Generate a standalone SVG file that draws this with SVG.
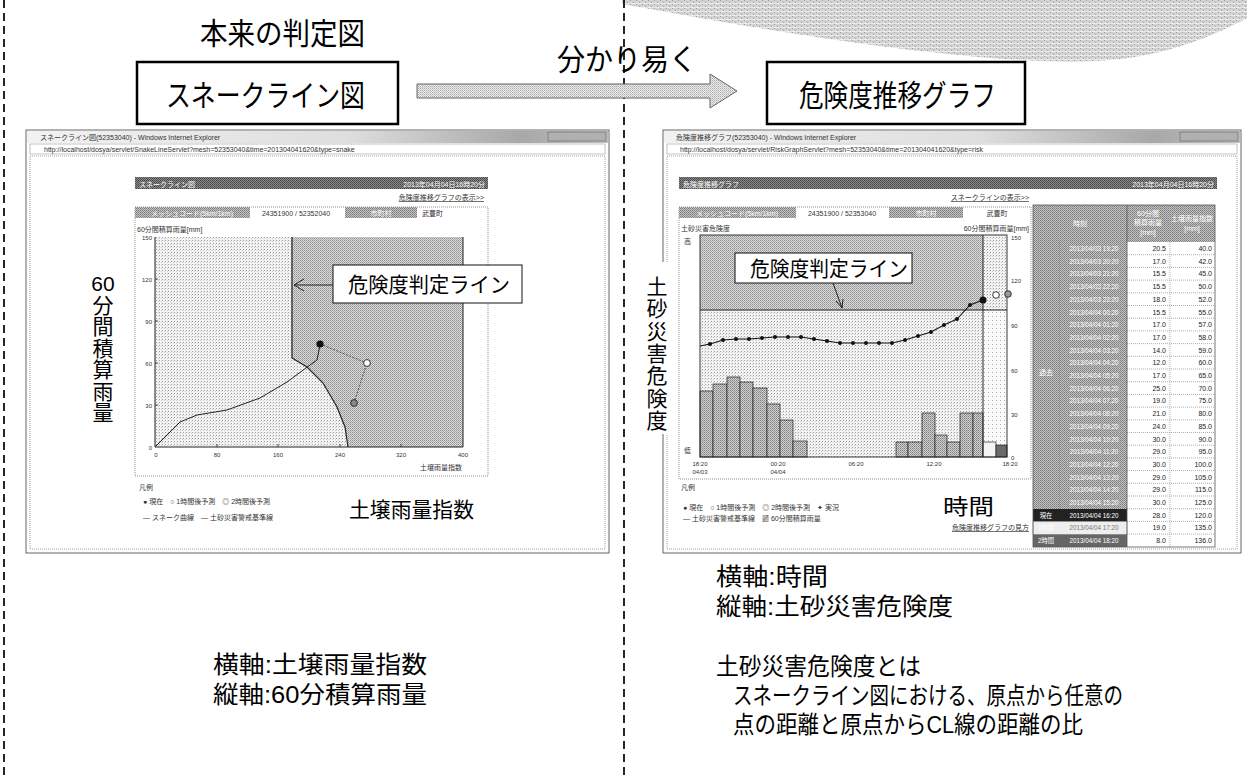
<svg xmlns="http://www.w3.org/2000/svg" width="1247" height="778" viewBox="0 0 1247 778">
<style>
text{font-family:"Liberation Sans","Noto Sans CJK JP",sans-serif;}
.big{font-size:30px;fill:#000;}
.lab{font-size:21px;fill:#000;}
.bt{font-size:24px;fill:#000;}
.sm{font-size:7px;fill:#333;}
.smw{font-size:7px;fill:#fff;}
.tk{font-size:6px;fill:#333;}
.vl{font-size:7px;fill:#222;text-anchor:end;}
.dt{font-size:6.3px;fill:#fff;text-anchor:middle;}
.dash{stroke:#000;stroke-width:1.7;stroke-dasharray:8 5;fill:none;}
.sep{stroke:#777;stroke-width:0.6;stroke-dasharray:1 1;}
.cell{fill:url(#pCell);}
</style>
<defs>
<pattern id="pWave" width="6" height="4" patternUnits="userSpaceOnUse"><rect width="6" height="4" fill="#d6d6d6"/><rect width="1" height="1" fill="#999"/><rect x="3" y="2" width="1" height="1" fill="#a6a6a6"/><rect x="0" y="3" width="5" height="1" fill="#ededed"/><rect x="2" y="1" width="3" height="1" fill="#c6c6c6"/></pattern>
<pattern id="pArrow" width="2" height="2" patternUnits="userSpaceOnUse"><rect width="2" height="2" fill="#ececec"/><rect width="1" height="1" fill="#a8a8a8"/><rect x="1" y="1" width="1" height="1" fill="#c8c8c8"/></pattern>
<pattern id="pLight" width="3" height="3" patternUnits="userSpaceOnUse"><rect width="3" height="3" fill="#f3f3f3"/><rect width="1" height="1" fill="#9c9c9c"/><rect x="2" y="1" width="1" height="1" fill="#cfcfcf"/></pattern>
<pattern id="pVLight" width="4" height="4" patternUnits="userSpaceOnUse"><rect width="4" height="4" fill="#fafafa"/><rect width="1" height="1" fill="#b0b0b0"/></pattern>
<pattern id="pMid" width="2" height="2" patternUnits="userSpaceOnUse"><rect width="2" height="2" fill="#dcdcdc"/><rect width="1" height="1" fill="#8e8e8e"/><rect x="1" y="1" width="1" height="1" fill="#a8a8a8"/></pattern>
<pattern id="pHdr" width="2" height="2" patternUnits="userSpaceOnUse"><rect width="2" height="2" fill="#8a8a8a"/><rect width="1" height="1" fill="#444"/><rect x="1" y="1" width="1" height="1" fill="#555"/></pattern>
<pattern id="pCell" width="2" height="2" patternUnits="userSpaceOnUse"><rect width="2" height="2" fill="#c4c4c4"/><rect width="1" height="1" fill="#7a7a7a"/><rect x="1" y="1" width="1" height="1" fill="#8c8c8c"/></pattern>
<pattern id="pBar" width="2" height="2" patternUnits="userSpaceOnUse"><rect width="2" height="2" fill="#d2d2d2"/><rect width="1" height="1" fill="#7c7c7c"/><rect x="1" y="1" width="1" height="1" fill="#9a9a9a"/></pattern>
<linearGradient id="gTitle" x1="0" y1="0" x2="1" y2="0"><stop offset="0" stop-color="#f2f2f2"/><stop offset="0.55" stop-color="#dedede"/><stop offset="0.85" stop-color="#a8a8a8"/><stop offset="1" stop-color="#bdbdbd"/></linearGradient>
</defs>
<rect width="1247" height="778" fill="#fff"/>

<g id="wave"><path d="M622 0 V4 C700 18 820 40 930 52 C1000 60 1060 64 1110 60 C1170 55 1215 35 1247 18 V0 Z" fill="url(#pWave)"/></g>

<g id="dividers">
<line x1="4" y1="0" x2="4" y2="778" class="dash"/>
<line x1="624" y1="0" x2="624" y2="778" class="dash"/>
</g>

<g id="title-left">
<text x="200" y="44" class="big" textLength="165" lengthAdjust="spacingAndGlyphs">本来の判定図</text>
</g>
<g id="node-snake">
<rect x="137" y="62" width="261" height="62" fill="#fff" stroke="#000" stroke-width="2.5"/>
<text x="166" y="106" class="big" font-size="32" textLength="199" lengthAdjust="spacingAndGlyphs">スネークライン図</text>
</g>
<g id="node-risk">
<rect x="767" y="62" width="258" height="62" fill="#fff" stroke="#000" stroke-width="2.5"/>
<text x="799" y="106" class="big" font-size="32" textLength="197" lengthAdjust="spacingAndGlyphs">危険度推移グラフ</text>
</g>
<g id="label-easy">
<text x="557" y="70" class="big" textLength="140" lengthAdjust="spacingAndGlyphs">分かり易く</text>
</g>

<!-- left window -->
<g id="window-snake">
<rect x="26" y="130" width="583" height="423" fill="#fff" stroke="#666" stroke-width="1"/>
<rect x="27" y="131" width="581" height="12" fill="url(#gTitle)"/>
<text x="40" y="140" class="sm">スネークライン図(52353040) - Windows Internet Explorer</text>
<rect x="548" y="132" width="58" height="9" fill="#b0b0b0" stroke="#555" stroke-width="0.5"/>
<rect x="30" y="144" width="575" height="10" fill="#fff" stroke="#999" stroke-width="0.6"/>
<text x="44" y="152" class="sm" font-size="6">http://localhost/dosya/servlet/SnakeLineServlet?mesh=52353040&amp;time=201304041620&amp;type=snake</text>
<rect x="30" y="156" width="575" height="393" fill="#fff" stroke="#888" stroke-width="0.8" stroke-dasharray="1 1"/>
<rect x="135" y="177" width="353" height="12" fill="url(#pHdr)"/>
<text x="139" y="186.5" class="smw" font-size="8">スネークライン図</text>
<text x="485" y="187" class="smw" font-size="9.5" text-anchor="end">2013年04月04日16時20分</text>
<text x="484" y="200" class="sm" font-size="6.5" text-anchor="end" text-decoration="underline">危険度推移グラフの表示&gt;&gt;</text>
<rect x="135" y="207" width="353" height="269" fill="none" stroke="#666" stroke-width="0.7" stroke-dasharray="1 1"/>
<rect x="135" y="207" width="115" height="11" class="cell"/>
<text x="192" y="215.5" class="smw" font-size="6.5" text-anchor="middle">メッシュコード(5km/1km)</text>
<text x="296" y="215.5" class="sm" font-size="6.5" text-anchor="middle">24351900 / 52352040</text>
<rect x="345" y="207" width="72" height="11" class="cell"/>
<text x="381" y="215.5" class="smw" font-size="6.5" text-anchor="middle">市町村</text>
<text x="422" y="215.5" class="sm" font-size="6.5">武豊町</text>
<text x="137" y="232" class="sm" font-size="7">60分間積算雨量[mm]</text>
<polygon points="155,237 292,237 292,358 307,367 323,383 337,407 345,427 348,447 155,447" fill="url(#pLight)"/>
<polygon points="292,237 463,237 463,447 348,447 345,427 337,407 323,383 307,367 292,358" fill="url(#pMid)"/>
<polyline points="155,237 155,447 463,447 463,237" fill="none" stroke="#222" stroke-width="1"/>
<polyline points="292,237 292,358 307,367 323,383 337,407 345,427 348,447" fill="none" stroke="#222" stroke-width="1.2"/>
<polyline points="155,447 170,432 180,422 197,415 227,410 260,398 287,382 310,365 317,360 320,345" fill="none" stroke="#222" stroke-width="1"/>
<polyline points="320,344 367,363 354,403" fill="none" stroke="#333" stroke-width="0.8" stroke-dasharray="2 1.5"/>
<circle cx="320" cy="344" r="3.6" fill="#111"/>
<circle cx="367" cy="363" r="3.4" fill="#fff" stroke="#222" stroke-width="0.9"/>
<circle cx="354" cy="403" r="3.4" fill="#888" stroke="#222" stroke-width="0.9"/>
<g class="tk" text-anchor="end">
<text x="152" y="240">150</text><text x="152" y="282">120</text><text x="152" y="324">90</text><text x="152" y="366">60</text><text x="152" y="408">30</text><text x="152" y="450">0</text>
</g>
<g class="tk" text-anchor="middle">
<text x="156" y="457">0</text><text x="217" y="457">80</text><text x="278" y="457">160</text><text x="340" y="457">240</text><text x="401" y="457">320</text><text x="463" y="457">400</text>
</g>
<path d="M217 447 v-3 M278 447 v-3 M340 447 v-3 M401 447 v-3 M155 405 h3 M155 363 h3 M155 321 h3 M155 279 h3" stroke="#222" stroke-width="0.8"/>
<text x="462" y="470" class="sm" font-size="7.5" text-anchor="end">土壌雨量指数</text>
<text x="139" y="490" class="sm" font-size="7.5">凡例</text>
<text x="143" y="504" class="sm" font-size="7.5">● 現在　○ 1時間後予測　◎ 2時間後予測</text>
<text x="143" y="520" class="sm" font-size="7.5">— スネーク曲線　— 土砂災害警戒基準線</text>
</g>

<g id="label-snake-y">
<text x="103" y="291" class="lab" text-anchor="middle">60</text>
<text x="103" y="313" class="lab" text-anchor="middle">分</text>
<text x="103" y="334" class="lab" text-anchor="middle">間</text>
<text x="103" y="356" class="lab" text-anchor="middle">積</text>
<text x="103" y="377" class="lab" text-anchor="middle">算</text>
<text x="103" y="399" class="lab" text-anchor="middle">雨</text>
<text x="103" y="420" class="lab" text-anchor="middle">量</text>
</g>
<g id="label-snake-x">
<text x="349" y="517" class="lab" textLength="125" lengthAdjust="spacingAndGlyphs">土壌雨量指数</text>
</g>
<g id="callout-left">
<rect x="333" y="265" width="189" height="38" fill="#fff" stroke="#111" stroke-width="1"/>
<text x="348" y="292" class="lab" font-size="20" textLength="162" lengthAdjust="spacingAndGlyphs">危険度判定ライン</text>
</g>

<!-- right window -->
<g id="window-risk">
<rect x="663" y="130" width="578" height="423" fill="#fff" stroke="#666" stroke-width="1"/>
<rect x="664" y="131" width="576" height="12" fill="url(#gTitle)"/>
<text x="676" y="140" class="sm">危険度推移グラフ(52353040) - Windows Internet Explorer</text>
<rect x="1180" y="132" width="58" height="9" fill="#b0b0b0" stroke="#555" stroke-width="0.5"/>
<rect x="667" y="144" width="570" height="10" fill="#fff" stroke="#999" stroke-width="0.6"/>
<text x="680" y="152" class="sm" font-size="6">http://localhost/dosya/servlet/RiskGraphServlet?mesh=52353040&amp;time=201304041620&amp;type=risk</text>
<rect x="667" y="156" width="570" height="393" fill="#fff" stroke="#888" stroke-width="0.8" stroke-dasharray="1 1"/>
<rect x="679" y="177" width="538" height="12" fill="url(#pHdr)"/>
<text x="683" y="186.5" class="smw" font-size="8">危険度推移グラフ</text>
<text x="1214" y="187" class="smw" font-size="9.5" text-anchor="end">2013年04月04日16時20分</text>
<text x="1029" y="200" class="sm" font-size="6.5" text-anchor="end" text-decoration="underline">スネークラインの表示&gt;&gt;</text>
<rect x="679" y="207" width="352" height="272" fill="none" stroke="#666" stroke-width="0.7" stroke-dasharray="1 1"/>
<rect x="679" y="207" width="117" height="11" class="cell"/>
<text x="737" y="215.5" class="smw" font-size="6.5" text-anchor="middle">メッシュコード(5km/1km)</text>
<text x="842" y="215.5" class="sm" font-size="6.5" text-anchor="middle">24351900 / 52353040</text>
<rect x="889" y="207" width="74" height="11" class="cell"/>
<text x="926" y="215.5" class="smw" font-size="6.5" text-anchor="middle">市町村</text>
<text x="997" y="215.5" class="sm" font-size="6.5" text-anchor="middle">武豊町</text>
<text x="681" y="231" class="sm" font-size="7">土砂災害危険度</text>
<text x="1029" y="231" class="sm" font-size="7" text-anchor="end">60分間積算雨量[mm]</text>
<text x="684" y="244" class="sm" font-size="7">高</text>
<text x="684" y="453" class="sm" font-size="7">低</text>
<rect x="700" y="235" width="283" height="75" fill="url(#pMid)"/>
<rect x="700" y="310" width="283" height="147" fill="url(#pLight)"/>
<rect x="983" y="235" width="24" height="75" fill="url(#pLight)"/>
<rect x="983" y="310" width="24" height="147" fill="url(#pVLight)"/>
<g fill="url(#pBar)" stroke="#222" stroke-width="0.7">
<rect x="700" y="391" width="13" height="66"/><rect x="713" y="384" width="14" height="73"/><rect x="727" y="377" width="13" height="80"/><rect x="740" y="382" width="13" height="75"/><rect x="753" y="388" width="14" height="69"/><rect x="767" y="404" width="13" height="53"/><rect x="780" y="420" width="13" height="37"/><rect x="793" y="441" width="14" height="16"/>
<rect x="896" y="442" width="12" height="15"/><rect x="908" y="442" width="14" height="15"/><rect x="922" y="413" width="13" height="44"/><rect x="935" y="435" width="12" height="22"/><rect x="947" y="442" width="13" height="15"/><rect x="960" y="413" width="13" height="44"/><rect x="973" y="413" width="10" height="44"/>
<rect x="983" y="442" width="13" height="15" fill="#f4f4f4"/><rect x="996" y="445" width="11" height="12" fill="#6a6a6a"/>
</g>
<rect x="700" y="235" width="307" height="222" fill="none" stroke="#222" stroke-width="0.9"/>
<line x1="700" y1="310" x2="1007" y2="310" stroke="#222" stroke-width="1"/>
<line x1="983" y1="235" x2="983" y2="457" stroke="#222" stroke-width="1"/>
<polyline points="700,346 710,344 723,340 736,339 749,339 762,338 775,337 788,337 801,337 814,339 827,341 840,343 853,343 866,343 879,343 892,343 905,340 918,336 931,332 944,325 957,319 970,305 983,300" fill="none" stroke="#111" stroke-width="1.1"/>
<g fill="#111">
<circle cx="710" cy="344" r="2"/><circle cx="723" cy="340" r="2"/><circle cx="736" cy="339" r="2"/><circle cx="749" cy="339" r="2"/><circle cx="762" cy="338" r="2"/><circle cx="775" cy="337" r="2"/><circle cx="788" cy="337" r="2"/><circle cx="801" cy="337" r="2"/><circle cx="814" cy="339" r="2"/><circle cx="827" cy="341" r="2"/><circle cx="840" cy="343" r="2"/><circle cx="853" cy="343" r="2"/><circle cx="866" cy="343" r="2"/><circle cx="879" cy="343" r="2"/><circle cx="892" cy="343" r="2"/><circle cx="905" cy="340" r="2"/><circle cx="918" cy="336" r="2"/><circle cx="931" cy="332" r="2"/><circle cx="944" cy="325" r="2"/><circle cx="957" cy="319" r="2"/><circle cx="970" cy="305" r="2"/><circle cx="983" cy="300" r="3.5"/>
</g>
<circle cx="996" cy="295" r="3.3" fill="#fff" stroke="#222" stroke-width="0.9"/>
<circle cx="1008" cy="294" r="3.3" fill="#999" stroke="#222" stroke-width="0.9"/>
<g class="tk" text-anchor="start">
<text x="1011" y="240">150</text><text x="1011" y="283">120</text><text x="1011" y="328">90</text><text x="1011" y="373">60</text><text x="1011" y="417">30</text><text x="1011" y="460">0</text>
</g>
<g class="tk" text-anchor="middle">
<text x="700" y="466">18:20</text><text x="700" y="474">04/03</text><text x="778" y="466">00:20</text><text x="778" y="474">04/04</text><text x="856" y="466">06:20</text><text x="934" y="466">12:20</text><text x="1010" y="466">18:20</text>
</g>
<text x="681" y="490" class="sm" font-size="7.5">凡例</text>
<text x="683" y="510" class="sm" font-size="7.5">● 現在　○ 1時間後予測　◎ 2時間後予測　✦ 実況</text>
<text x="683" y="521" class="sm" font-size="7.5">— 土砂災害警戒基準線　▨ 60分間積算雨量</text>
<text x="1029" y="530" class="sm" font-size="7" text-anchor="end" text-decoration="underline">危険度推移グラフの見方</text>
</g>

<g id="table-risk">
<rect x="1033" y="205" width="182" height="37" class="cell"/>
<rect x="1033" y="242" width="27" height="267" class="cell"/>
<text x="1080" y="226" class="smw" text-anchor="middle">時刻</text>
<text x="1148" y="216" class="smw" font-size="6" text-anchor="middle">60分間</text>
<text x="1148" y="225" class="smw" font-size="6" text-anchor="middle">積算雨量</text>
<text x="1148" y="235" class="smw" font-size="6" text-anchor="middle">[mm]</text>
<text x="1192" y="221" class="smw" font-size="6" text-anchor="middle">土壌雨量指数</text>
<text x="1192" y="231" class="smw" font-size="6" text-anchor="middle">[mm]</text>
<text x="1046" y="375" class="smw" font-size="6.5" text-anchor="middle">過去</text>
<g>
<rect x="1060" y="242" width="67" height="267" class="cell"/>
<rect x="1127" y="242" width="88" height="305" fill="#fff"/>
<rect x="1033" y="509" width="94" height="12.7" fill="#222"/>
<rect x="1033" y="521.7" width="94" height="12.7" fill="#eee" stroke="#999" stroke-width="0.5"/>
<rect x="1033" y="534.4" width="94" height="12.6" fill="#666"/>
</g>
<g class="dt">
<text x="1094" y="251">2013/04/03 19:20</text><text x="1094" y="263.7">2013/04/03 20:20</text><text x="1094" y="276.4">2013/04/03 21:20</text><text x="1094" y="289.1">2013/04/03 22:20</text><text x="1094" y="301.8">2013/04/03 23:20</text><text x="1094" y="314.5">2013/04/04 00:20</text><text x="1094" y="327.2">2013/04/04 01:20</text><text x="1094" y="339.9">2013/04/04 02:20</text><text x="1094" y="352.6">2013/04/04 03:20</text><text x="1094" y="365.3">2013/04/04 04:20</text><text x="1094" y="378">2013/04/04 05:20</text><text x="1094" y="390.7">2013/04/04 06:20</text><text x="1094" y="403.4">2013/04/04 07:20</text><text x="1094" y="416.1">2013/04/04 08:20</text><text x="1094" y="428.8">2013/04/04 09:20</text><text x="1094" y="441.5">2013/04/04 10:20</text><text x="1094" y="454.2">2013/04/04 11:20</text><text x="1094" y="466.9">2013/04/04 12:20</text><text x="1094" y="479.6">2013/04/04 13:20</text><text x="1094" y="492.3">2013/04/04 14:20</text><text x="1094" y="505">2013/04/04 15:20</text><text x="1094" y="517.7">2013/04/04 16:20</text><text x="1094" y="530.4" fill="#777">2013/04/04 17:20</text><text x="1094" y="543.1">2013/04/04 18:20</text>
</g>
<text x="1046" y="517.7" class="dt">現在</text>
<text x="1046" y="530.4" class="dt" fill="#555">1時間</text>
<text x="1046" y="543.1" class="dt">2時間</text>
<g class="vl">
<text x="1166" y="251">20.5</text><text x="1166" y="263.7">17.0</text><text x="1166" y="276.4">15.5</text><text x="1166" y="289.1">15.5</text><text x="1166" y="301.8">18.0</text><text x="1166" y="314.5">15.5</text><text x="1166" y="327.2">17.0</text><text x="1166" y="339.9">17.0</text><text x="1166" y="352.6">14.0</text><text x="1166" y="365.3">12.0</text><text x="1166" y="378">17.0</text><text x="1166" y="390.7">25.0</text><text x="1166" y="403.4">19.0</text><text x="1166" y="416.1">21.0</text><text x="1166" y="428.8">24.0</text><text x="1166" y="441.5">30.0</text><text x="1166" y="454.2">29.0</text><text x="1166" y="466.9">30.0</text><text x="1166" y="479.6">29.0</text><text x="1166" y="492.3">29.0</text><text x="1166" y="505">30.0</text><text x="1166" y="517.7">28.0</text><text x="1166" y="530.4">19.0</text><text x="1166" y="543.1">8.0</text>
<text x="1212" y="251">40.0</text><text x="1212" y="263.7">42.0</text><text x="1212" y="276.4">45.0</text><text x="1212" y="289.1">50.0</text><text x="1212" y="301.8">52.0</text><text x="1212" y="314.5">55.0</text><text x="1212" y="327.2">57.0</text><text x="1212" y="339.9">58.0</text><text x="1212" y="352.6">59.0</text><text x="1212" y="365.3">60.0</text><text x="1212" y="378">65.0</text><text x="1212" y="390.7">70.0</text><text x="1212" y="403.4">75.0</text><text x="1212" y="416.1">80.0</text><text x="1212" y="428.8">85.0</text><text x="1212" y="441.5">90.0</text><text x="1212" y="454.2">95.0</text><text x="1212" y="466.9">100.0</text><text x="1212" y="479.6">105.0</text><text x="1212" y="492.3">115.0</text><text x="1212" y="505">125.0</text><text x="1212" y="517.7">120.0</text><text x="1212" y="530.4">135.0</text><text x="1212" y="543.1">136.0</text>
</g>
<path class="sep" d="M1127 254.7 H1215 M1127 267.4 H1215 M1127 280.1 H1215 M1127 292.8 H1215 M1127 305.5 H1215 M1127 318.2 H1215 M1127 330.9 H1215 M1127 343.6 H1215 M1127 356.3 H1215 M1127 369 H1215 M1127 381.7 H1215 M1127 394.4 H1215 M1127 407.1 H1215 M1127 419.8 H1215 M1127 432.5 H1215 M1127 445.2 H1215 M1127 457.9 H1215 M1127 470.6 H1215 M1127 483.3 H1215 M1127 496 H1215 M1127 508.7 H1215 M1127 521.4 H1215 M1127 534.1 H1215 M1170 242 V547 M1060 242 V509"/>
<rect x="1033" y="205" width="182" height="342" fill="none" stroke="#555" stroke-width="0.8"/>
<line x1="1127" y1="205" x2="1127" y2="547" stroke="#555" stroke-width="0.8"/>
</g>

<g id="label-risk-y">
<rect x="644" y="262" width="27" height="172" fill="#fff"/>
<text x="657" y="294" class="lab" text-anchor="middle">土</text>
<text x="657" y="316" class="lab" text-anchor="middle">砂</text>
<text x="657" y="339" class="lab" text-anchor="middle">災</text>
<text x="657" y="361" class="lab" text-anchor="middle">害</text>
<text x="657" y="383" class="lab" text-anchor="middle">危</text>
<text x="657" y="406" class="lab" text-anchor="middle">険</text>
<text x="657" y="428" class="lab" text-anchor="middle">度</text>
</g>
<g id="label-risk-x">
<text x="943" y="514" class="lab" font-size="24" textLength="51" lengthAdjust="spacingAndGlyphs">時間</text>
</g>
<g id="callout-right">
<rect x="735" y="253" width="177" height="30" fill="#fff" stroke="#111" stroke-width="1"/>
<text x="750" y="276" class="lab" font-size="20" textLength="158" lengthAdjust="spacingAndGlyphs">危険度判定ライン</text>
</g>

<g id="connectors" fill="none" stroke="#222" stroke-width="1">
<path d="M417 84 H710 V74 L737 91 L710 108 V98 H417 Z" fill="url(#pArrow)" stroke="#666"/>
<path d="M333 285 H294 M304 279 L294 285 L304 291"/>
<path d="M833 283 L842 308 M836 301 L842 308 L843 299"/>
</g>

<g id="notes-left">
<text x="213" y="673" class="bt" textLength="214" lengthAdjust="spacingAndGlyphs">横軸:土壌雨量指数</text>
<text x="213" y="703" class="bt" textLength="214" lengthAdjust="spacingAndGlyphs">縦軸:60分積算雨量</text>
</g>
<g id="notes-right">
<text x="716" y="585" class="bt" textLength="112" lengthAdjust="spacingAndGlyphs">横軸:時間</text>
<text x="716" y="615" class="bt" textLength="237" lengthAdjust="spacingAndGlyphs">縦軸:土砂災害危険度</text>
<text x="716" y="675" class="bt" font-size="23" textLength="205" lengthAdjust="spacingAndGlyphs">土砂災害危険度とは</text>
<text x="733" y="704" class="bt" font-size="23" textLength="390" lengthAdjust="spacingAndGlyphs">スネークライン図における、原点から任意の</text>
<text x="733" y="733" class="bt" font-size="23" textLength="350" lengthAdjust="spacingAndGlyphs">点の距離と原点からCL線の距離の比</text>
</g>
</svg>
